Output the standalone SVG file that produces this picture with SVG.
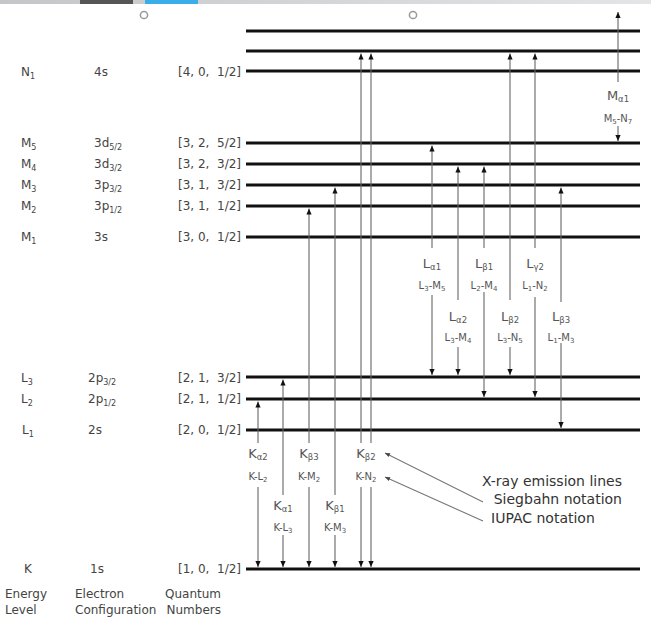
<svg xmlns="http://www.w3.org/2000/svg" width="651" height="622" viewBox="0 0 651 622">
<defs>
<linearGradient id="bar" x1="0" y1="0" x2="1" y2="0"><stop offset="0" stop-color="#c4c6c8"/><stop offset="1" stop-color="#e4e5e6"/></linearGradient>
<marker id="ah" viewBox="0 0 6 6" refX="6" refY="3" markerWidth="6" markerHeight="6" markerUnits="userSpaceOnUse" orient="auto"><path d="M0,0.4 L6,3 L0,5.6 z" fill="#111"/></marker>
<marker id="ps" viewBox="0 0 6 6" refX="6" refY="3" markerWidth="6" markerHeight="5" markerUnits="userSpaceOnUse" orient="auto"><path d="M0,0.5 L6,3 L0,5.5 z" fill="#444"/></marker>
</defs>
<style>
text{font-family:"DejaVu Sans","Liberation Sans",sans-serif;fill:#444;white-space:pre}
.c{font-size:12px}
.s{font-size:8px}
.lv{stroke:#111;stroke-width:3;fill:none}
.ar{stroke:#666;stroke-width:1.1;fill:none;marker-end:url(#ah)}
.pt{stroke:#777;stroke-width:1.1;fill:none;marker-end:url(#ps)}
.big{font-size:13px;text-anchor:middle;fill:#555}
.sm{font-size:10px;text-anchor:middle;fill:#555}
.bs{font-size:8.5px}
.ss{font-size:7px}
.nt{font-size:14px;fill:#333}
</style>
<rect width="651" height="622" fill="#fff"/>
<g id="topbar">
<rect x="0" y="0" width="651" height="4" fill="url(#bar)"/>
<rect x="80" y="0" width="53" height="4" fill="#555"/>
<rect x="145" y="0" width="53" height="4" fill="#3aaeea"/>
<circle cx="144" cy="15" r="3.6" fill="none" stroke="#999" stroke-width="1.5"/>
<circle cx="413" cy="15" r="3.6" fill="none" stroke="#999" stroke-width="1.5"/>
</g>
<g id="levels">
<line class="lv" x1="246" y1="31" x2="640" y2="31"/>
<line class="lv" x1="246" y1="51" x2="640" y2="51"/>
<line class="lv" x1="246" y1="71" x2="640" y2="71"/>
<line class="lv" x1="246" y1="143" x2="640" y2="143"/>
<line class="lv" x1="246" y1="164" x2="640" y2="164"/>
<line class="lv" x1="246" y1="185" x2="640" y2="185"/>
<line class="lv" x1="246" y1="206" x2="640" y2="206"/>
<line class="lv" x1="246" y1="237" x2="640" y2="237"/>
<line class="lv" x1="246" y1="377" x2="640" y2="377"/>
<line class="lv" x1="246" y1="399" x2="640" y2="399"/>
<line class="lv" x1="246" y1="430" x2="640" y2="430"/>
<line class="lv" x1="246" y1="569" x2="640" y2="569"/>
</g>
<g id="row-N1" class="c">
<text x="21" y="76">N<tspan class="s" dy="3">1</tspan></text>
<text x="94" y="76">4s</text>
<text x="178" y="76">[4, 0,  1/2]</text>
</g>
<g id="row-M5" class="c">
<text x="21" y="147">M<tspan class="s" dy="3">5</tspan></text>
<text x="94" y="147">3d<tspan class="s" dy="3">5/2</tspan></text>
<text x="178" y="147">[3, 2,  5/2]</text>
</g>
<g id="row-M4" class="c">
<text x="21" y="168">M<tspan class="s" dy="3">4</tspan></text>
<text x="94" y="168">3d<tspan class="s" dy="3">3/2</tspan></text>
<text x="178" y="168">[3, 2,  3/2]</text>
</g>
<g id="row-M3" class="c">
<text x="21" y="189">M<tspan class="s" dy="3">3</tspan></text>
<text x="94" y="189">3p<tspan class="s" dy="3">3/2</tspan></text>
<text x="178" y="189">[3, 1,  3/2]</text>
</g>
<g id="row-M2" class="c">
<text x="21" y="210">M<tspan class="s" dy="3">2</tspan></text>
<text x="94" y="210">3p<tspan class="s" dy="3">1/2</tspan></text>
<text x="178" y="210">[3, 1,  1/2]</text>
</g>
<g id="row-M1" class="c">
<text x="21" y="241">M<tspan class="s" dy="3">1</tspan></text>
<text x="94" y="241">3s</text>
<text x="178" y="241">[3, 0,  1/2]</text>
</g>
<g id="row-L3" class="c">
<text x="21" y="382">L<tspan class="s" dy="3">3</tspan></text>
<text x="88" y="382">2p<tspan class="s" dy="3">3/2</tspan></text>
<text x="178" y="382">[2, 1,  3/2]</text>
</g>
<g id="row-L2" class="c">
<text x="21" y="403">L<tspan class="s" dy="3">2</tspan></text>
<text x="88" y="403">2p<tspan class="s" dy="3">1/2</tspan></text>
<text x="178" y="403">[2, 1,  1/2]</text>
</g>
<g id="row-L1" class="c">
<text x="22" y="434">L<tspan class="s" dy="3">1</tspan></text>
<text x="88" y="434">2s</text>
<text x="178" y="434">[2, 0,  1/2]</text>
</g>
<g id="row-K" class="c">
<text x="24" y="573">K</text>
<text x="90" y="573">1s</text>
<text x="178" y="573">[1, 0,  1/2]</text>
</g>
<g id="headers" class="c">
<text x="5" y="598">Energy</text>
<text x="5" y="614">Level</text>
<text x="75" y="598">Electron</text>
<text x="75" y="614">Configuration</text>
<text x="221" y="598" text-anchor="end">Quantum</text>
<text x="221" y="614" text-anchor="end">Numbers</text>
</g>
<g id="connectors">
<path class="ar" d="M258,443 V401.5"/><path class="ar" d="M258,487 V567"/>
<path class="ar" d="M283,495 V379.5"/><path class="ar" d="M283,535 V567"/>
<path class="ar" d="M309,443 V208.5"/><path class="ar" d="M309,487 V567"/>
<path class="ar" d="M335,495 V187.5"/><path class="ar" d="M335,535 V567"/>
<path class="ar" d="M361,443 V53.5"/><path class="ar" d="M361,487 V567"/>
<path class="ar" d="M371,443 V53.5"/><path class="ar" d="M371,487 V567"/>
<path class="ar" d="M432,248 V145.5"/><path class="ar" d="M432,295 V375"/>
<path class="ar" d="M458,300 V166.5"/><path class="ar" d="M458,347 V375"/>
<path class="ar" d="M484,248 V166.5"/><path class="ar" d="M484,292 V397"/>
<path class="ar" d="M510,300 V53.5"/><path class="ar" d="M510,347 V375"/>
<path class="ar" d="M535,248 V53.5"/><path class="ar" d="M535,297 V397"/>
<path class="ar" d="M561,302 V187.5"/><path class="ar" d="M561,343 V428"/>
<path class="ar" d="M618,82 V12"/><path class="ar" d="M618,126 V141"/>
<path class="pt" d="M483,502 L385,453"/>
<path class="pt" d="M483,521 L385,477"/>
</g>
<g id="labels">
<text class="big" x="258" y="458">K<tspan class="bs" dy="2">α2</tspan></text>
<text class="sm" x="258" y="480">K-L<tspan class="ss" dy="2">2</tspan></text>
<text class="big" x="309" y="458">K<tspan class="bs" dy="2">β3</tspan></text>
<text class="sm" x="309" y="480">K-M<tspan class="ss" dy="2">2</tspan></text>
<text class="big" x="366" y="458">K<tspan class="bs" dy="2">β2</tspan></text>
<text class="sm" x="366" y="480">K-N<tspan class="ss" dy="2">2</tspan></text>
<text class="big" x="283" y="510">K<tspan class="bs" dy="2">α1</tspan></text>
<text class="sm" x="283" y="531">K-L<tspan class="ss" dy="2">3</tspan></text>
<text class="big" x="335" y="510">K<tspan class="bs" dy="2">β1</tspan></text>
<text class="sm" x="335" y="531">K-M<tspan class="ss" dy="2">3</tspan></text>
<text class="big" x="432" y="268">L<tspan class="bs" dy="2">α1</tspan></text>
<text class="sm" x="432" y="289">L<tspan class="ss" dy="2">3</tspan><tspan dy="-2">-M</tspan><tspan class="ss" dy="2">5</tspan></text>
<text class="big" x="484" y="268">L<tspan class="bs" dy="2">β1</tspan></text>
<text class="sm" x="484" y="289">L<tspan class="ss" dy="2">2</tspan><tspan dy="-2">-M</tspan><tspan class="ss" dy="2">4</tspan></text>
<text class="big" x="535" y="268">L<tspan class="bs" dy="2">γ2</tspan></text>
<text class="sm" x="535" y="289">L<tspan class="ss" dy="2">1</tspan><tspan dy="-2">-N</tspan><tspan class="ss" dy="2">2</tspan></text>
<text class="big" x="458" y="321">L<tspan class="bs" dy="2">α2</tspan></text>
<text class="sm" x="458" y="341">L<tspan class="ss" dy="2">3</tspan><tspan dy="-2">-M</tspan><tspan class="ss" dy="2">4</tspan></text>
<text class="big" x="510" y="321">L<tspan class="bs" dy="2">β2</tspan></text>
<text class="sm" x="510" y="341">L<tspan class="ss" dy="2">3</tspan><tspan dy="-2">-N</tspan><tspan class="ss" dy="2">5</tspan></text>
<text class="big" x="561" y="321">L<tspan class="bs" dy="2">β3</tspan></text>
<text class="sm" x="561" y="341">L<tspan class="ss" dy="2">1</tspan><tspan dy="-2">-M</tspan><tspan class="ss" dy="2">3</tspan></text>
<text class="big" x="618" y="100">M<tspan class="bs" dy="2">α1</tspan></text>
<text class="sm" x="618" y="122">M<tspan class="ss" dy="2">5</tspan><tspan dy="-2">-N</tspan><tspan class="ss" dy="2">7</tspan></text>
</g>
<g id="legend">
<text class="nt" x="622" y="486" text-anchor="end">X-ray emission lines</text>
<text class="nt" x="622" y="504" text-anchor="end">Siegbahn notation</text>
<text class="nt" x="491" y="523">IUPAC notation</text>
</g>
</svg>
